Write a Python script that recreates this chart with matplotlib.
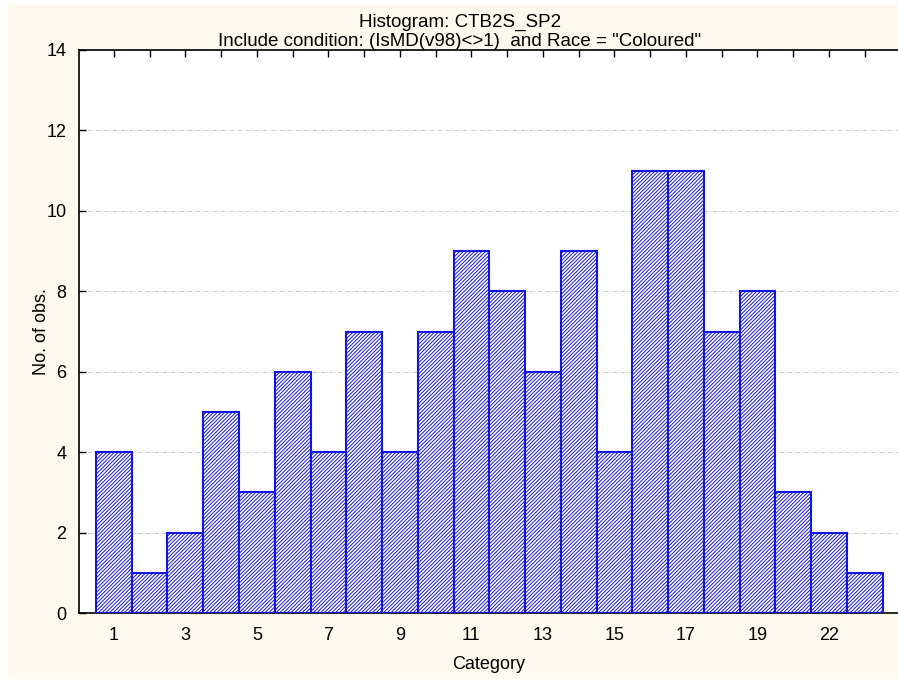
import matplotlib
matplotlib.use("Agg")
import matplotlib.pyplot as plt
from matplotlib.patches import Rectangle

categories = ["1", "2", "3", "4", "5", "6", "7", "8", "9", "10", "11",
              "12", "13", "14", "15", "16", "17", "18", "19", "20", "22", "23"]
counts = [4, 1, 2, 5, 3, 6, 4, 7, 4, 7, 9, 8, 6, 9, 4, 11, 11, 7, 8, 3, 2, 1]
shown_labels = ["1", "3", "5", "7", "9", "11", "13", "15", "17", "19", "22"]

plt.rcParams['font.family'] = ['Liberation Sans', 'DejaVu Sans']
plt.rcParams['hatch.color'] = '#4848ff'
plt.rcParams['hatch.linewidth'] = 0.7

W, H = 898, 679
fig = plt.figure(figsize=(W / 100, H / 100), dpi=100, facecolor='white')
fig.patches.append(Rectangle((8 / W, 0), 1 - 8 / W, 1 - 5 / H, transform=fig.transFigure,
                             facecolor='#fdf9ee', edgecolor='none', zorder=-10))

left, right, top, bottom = 79, 898, 50, 613
ax = fig.add_axes([left / W, 1 - bottom / H, (right - left) / W, (bottom - top) / H])
ax.set_facecolor('white')

pos = list(range(1, len(categories) + 1))
ax.bar(pos, counts, width=1.0, facecolor='white', edgecolor='#1515e0',
       linewidth=1.5, hatch='/////////', zorder=3)

ax.set_xlim(0.025, 22.93)
ax.set_ylim(0, 14)
ax.set_yticks(range(0, 15, 2))
ax.set_xticks(pos)
ax.set_xticklabels([c if c in shown_labels else "" for c in categories])
ax.yaxis.grid(True, linestyle=(0, (5, 2, 1, 2)), color='#c0c0c0', linewidth=0.6, zorder=0)
ax.tick_params(axis='x', direction='in', top=True, length=5, width=1, labelsize=13, pad=10)
ax.tick_params(axis='y', direction='in', length=5, width=1, labelsize=13, pad=9)
ax.spines['right'].set_visible(False)
for s in ['left', 'top', 'bottom']:
    ax.spines[s].set_linewidth(1.2)

ax.set_xlabel("Category", fontsize=13, labelpad=8.5)
ax.set_ylabel("No. of obs.", fontsize=13, labelpad=-2.5)

cx = 460 / W
fig.text(cx, 1 - 22 / H, "Histogram: CTB2S_SP2", ha='center', va='center', fontsize=13.5)
fig.text(cx, 1 - 41 / H, 'Include condition: (IsMD(v98)<>1)  and Race = "Coloured"',
         ha='center', va='center', fontsize=13.5)

fig.savefig("out.png", dpi=100, facecolor=fig.get_facecolor())
